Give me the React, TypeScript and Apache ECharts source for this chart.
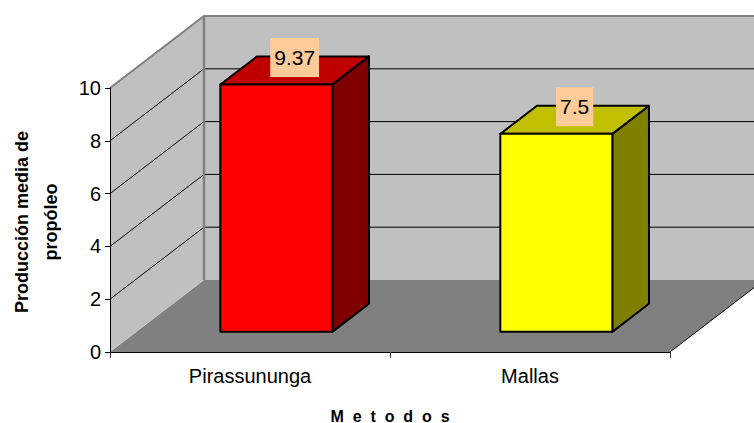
import React, { useEffect, useRef } from 'react';
import * as echarts from 'echarts';

const categories = ['Pirassununga', 'Mallas'];
const values = [9.37, 7.5];
const valueLabels = ['9.37', '7.5'];
const frontColors = ['#FF0000', '#FFFF00'];
const topColors = ['#C00000', '#C0C000'];
const sideColors = ['#800000', '#808000'];
const yMin = 0;
const yMax = 10;
const yStep = 2;
const yTitle = 'Producción media de\npropóleo';
const xTitle = 'M  e  t  o  d  o  s';

const DX = 94;
const DY = 72;
const BAR_FRONT = 0.28;
const BAR_BACK = 0.67;
const BAR_WIDTH_RATIO = 0.4;
const FONT = '"Liberation Sans", Arial, sans-serif';

export default function App() {
  const ref = useRef<HTMLDivElement>(null);
  useEffect(() => {
    document.body.style.margin = '0';
    const chart = echarts.init(ref.current!, null, { renderer: 'svg' });

    const wallsItem = (params: any, api: any) => {
      const cs = params.coordSys;
      const x0 = cs.x;
      const x1 = cs.x + cs.width;
      const y0 = api.coord([0, yMin])[1];
      const yT = api.coord([0, yMax])[1];
      const children: any[] = [];
      children.push({
        type: 'polygon',
        shape: { points: [[x0, y0], [x1, y0], [x1 + DX, y0 - DY], [x0 + DX, y0 - DY]] },
        style: { fill: '#808080' },
      });
      children.push({
        type: 'polygon',
        shape: { points: [[x0 + DX, yT - DY], [x1 + DX + 30, yT - DY], [x1 + DX + 30, y0 - DY], [x0 + DX, y0 - DY]] },
        style: { fill: '#C0C0C0' },
      });
      children.push({
        type: 'polygon',
        shape: { points: [[x0, y0], [x0, yT], [x0 + DX, yT - DY], [x0 + DX, y0 - DY]] },
        style: { fill: '#C0C0C0' },
      });
      for (let v = yMin + yStep; v < yMax; v += yStep) {
        const y = api.coord([0, v])[1];
        children.push({
          type: 'polyline',
          shape: { points: [[x0, y], [x0 + DX, y - DY], [x1 + DX + 30, y - DY]] },
          style: { stroke: '#000', lineWidth: 1, fill: null },
        });
      }
      children.push({
        type: 'polyline',
        shape: { points: [[x0, yT], [x0 + DX, yT - DY], [x1 + DX + 30, yT - DY]] },
        style: { stroke: '#808080', lineWidth: 2, fill: null },
      });
      children.push({
        type: 'line',
        shape: { x1: x0 + DX, y1: yT - DY, x2: x0 + DX, y2: y0 - DY },
        style: { stroke: '#808080', lineWidth: 2.5 },
      });
      children.push({
        type: 'line',
        shape: { x1: x1, y1: y0, x2: x1 + DX, y2: y0 - DY },
        style: { stroke: '#000', lineWidth: 1 },
      });
      return { type: 'group', children };
    };

    const barItem = (params: any, api: any) => {
      const i = params.dataIndex;
      const c = api.value(0);
      const v = api.value(1);
      const band = api.size([1, 0])[0];
      const w = band * BAR_WIDTH_RATIO;
      const base = api.coord([c, yMin]);
      const cx = base[0];
      const yb0 = base[1];
      const yt0 = api.coord([c, v])[1];
      const fx = DX * BAR_FRONT;
      const fy = DY * BAR_FRONT;
      const d = DX * (BAR_BACK - BAR_FRONT);
      const e = DY * (BAR_BACK - BAR_FRONT);
      const l = cx - w / 2 + fx;
      const r = cx + w / 2 + fx;
      const t = yt0 - fy;
      const b = yb0 - fy;
      const stroke = { stroke: '#000', lineWidth: 2, lineJoin: 'round' };
      return {
        type: 'group',
        children: [
          {
            type: 'polygon',
            shape: { points: [[r, t], [r + d, t - e], [r + d, b - e], [r, b]] },
            style: { fill: sideColors[i], ...stroke },
          },
          {
            type: 'polygon',
            shape: { points: [[l, t], [l + d, t - e], [r + d, t - e], [r, t]] },
            style: { fill: topColors[i], ...stroke },
          },
          {
            type: 'polygon',
            shape: { points: [[l, t], [r, t], [r, b], [l, b]] },
            style: { fill: frontColors[i], ...stroke },
          },
          {
            type: 'text',
            x: (l + r + d) / 2,
            y: t - e / 2 - 13,
            style: {
              text: valueLabels[i],
              fill: '#000',
              fontSize: 21,
              fontFamily: FONT,
              align: 'center',
              verticalAlign: 'middle',
              backgroundColor: '#FFCC99',
              padding: [8, 4, 10, 4],
            },
          },
        ],
      };
    };

    chart.setOption({
      animation: false,
      grid: { left: 110, right: 84, top: 88, bottom: 71, containLabel: false },
      xAxis: {
        type: 'category',
        data: categories,
        boundaryGap: true,
        z: 10,
        axisLine: { show: true, lineStyle: { color: '#000', width: 1 } },
        axisTick: { show: true, alignWithLabel: false, length: 6, lineStyle: { color: '#333' } },
        axisLabel: { fontSize: 20, color: '#000', margin: 14, fontFamily: FONT },
        splitLine: { show: false },
      },
      yAxis: {
        type: 'value',
        min: yMin,
        max: yMax,
        interval: yStep,
        z: 10,
        axisLine: { show: true, lineStyle: { color: '#000', width: 1 } },
        axisTick: { show: true, length: 5, lineStyle: { color: '#000' } },
        axisLabel: { fontSize: 20, color: '#000', margin: 9, fontFamily: FONT },
        splitLine: { show: false },
      },
      graphic: [
        {
          type: 'text',
          x: 36,
          y: 222,
          rotation: Math.PI / 2,
          style: {
            text: yTitle,
            font: 'bold 18px ' + FONT,
            fill: '#000',
            align: 'center',
            verticalAlign: 'middle',
            lineHeight: 29,
          },
        },
        {
          type: 'text',
          x: 390,
          y: 416,
          style: {
            text: xTitle,
            font: 'bold 16px ' + FONT,
            fill: '#000',
            align: 'center',
            verticalAlign: 'middle',
          },
        },
      ],
      series: [
        {
          type: 'custom',
          renderItem: wallsItem,
          data: [[0, 0]],
          clip: false,
          silent: true,
        },
        {
          type: 'custom',
          renderItem: barItem,
          data: values.map((v, i) => [i, v]),
          clip: false,
        },
      ],
    });
    return () => chart.dispose();
  }, []);
  return <div ref={ref} style={{ width: 754, height: 423 }} />;
}
